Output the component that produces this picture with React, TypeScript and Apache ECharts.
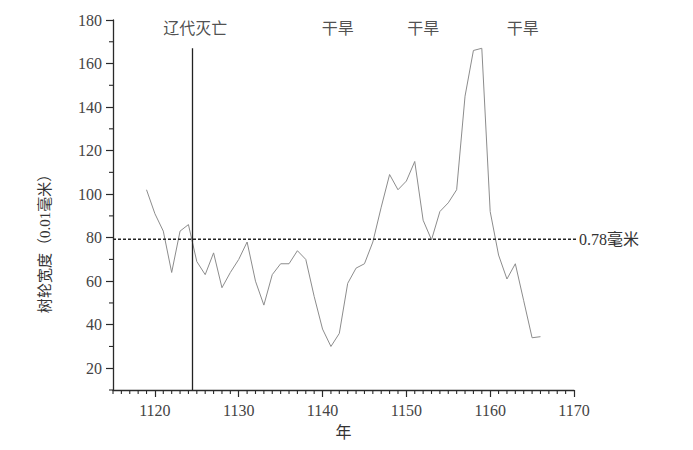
import React, { useEffect, useRef } from "react";
import * as echarts from "echarts";

const years: number[] = [];
for (let y = 1119; y <= 1166; y++) years.push(y);
const ringWidth = [
  102, 91, 83, 64, 83, 86, 69, 63, 73, 57, 64, 70, 78, 60, 49, 63, 68, 68, 74, 70,
  53, 38, 30, 36, 59, 66, 68, 78, 94, 109, 102, 106, 115, 88, 79, 92, 96, 102, 145,
  166, 167, 92, 72, 61, 68, 51, 34, 34.5,
];
const thresholdValue = 79.3;
const thresholdSpan = [1115, 1171.3];
const thresholdLabel = "0.78毫米";
const liaoFallYear = 1124.5;
const liaoLineTop = 167;
const annotations = [
  { year: 1124.8, text: "辽代灭亡" },
  { year: 1141.8, text: "干旱" },
  { year: 1152.0, text: "干旱" },
  { year: 1163.9, text: "干旱" },
];
const annotationY = 176.3;
const yMajorTicks = [20, 40, 60, 80, 100, 120, 140, 160, 180];
const yMinorTicks = [10, 30, 50, 70, 90, 110, 130, 150, 170];
const xMajorTicks = [1120, 1130, 1140, 1150, 1160, 1170];
const xMinorTicks: number[] = [];
for (let y = 1115; y < 1170; y++) if (y % 10 !== 0) xMinorTicks.push(y);
const xName = "年";
const yName = "树轮宽度（0.01毫米）";

const X_MIN = 1115;
const X_MAX = 1170;
const Y_MIN = 10;
const Y_MAX = 180;

const SERIF = "'Liberation Serif', 'Noto Sans CJK SC', serif";

export default function App() {
  const ref = useRef<HTMLDivElement>(null);
  useEffect(() => {
    if (!ref.current) return;
    const chart = echarts.init(ref.current, undefined, { renderer: "svg" });
    const axisColor = "#2a2a2a";
    const minorLen = 4;
    chart.setOption({
      animation: false,
      backgroundColor: "#fff",
      grid: { left: 113, right: 119, top: 20, bottom: 60 },
      xAxis: {
        type: "value",
        min: X_MIN,
        max: X_MAX,
        interval: 5,
        name: xName,
        nameLocation: "middle",
        nameGap: 34,
        nameTextStyle: { fontFamily: SERIF, fontSize: 16, color: "#333" },
        axisLine: { show: true, lineStyle: { color: axisColor, width: 1.3 } },
        axisTick: { show: true, customValues: xMajorTicks, length: 7, lineStyle: { color: axisColor, width: 1.2 } },
        axisLabel: {
          customValues: xMajorTicks,
          formatter: (v: number) => String(v),
          fontFamily: SERIF,
          fontSize: 16,
          color: "#444",
          margin: 12,
        },
        splitLine: { show: false },
      },
      yAxis: {
        type: "value",
        min: Y_MIN,
        max: Y_MAX,
        interval: 10,
        axisLine: { show: true, lineStyle: { color: axisColor, width: 1.3 } },
        axisTick: { show: true, customValues: yMajorTicks, length: 7, lineStyle: { color: axisColor, width: 1.2 } },
        axisLabel: {
          customValues: yMajorTicks,
          fontFamily: SERIF,
          fontSize: 16,
          color: "#444",
          margin: 11,
        },
        splitLine: { show: false },
      },
      graphic: [
        {
          type: "text",
          x: 45,
          y: 240,
          rotation: Math.PI / 2,
          style: {
            text: yName,
            fontFamily: SERIF,
            fontSize: 15,
            fill: "#333",
            align: "center",
            verticalAlign: "middle",
          },
        },
      ],
      series: [
        {
          type: "line",
          data: years.map((y, i) => [y, ringWidth[i]]),
          symbol: "none",
          lineStyle: { color: "#8c8c8c", width: 1 },
          markLine: {
            silent: true,
            symbol: ["none", "none"],
            data: [
              [
                {
                  coord: [liaoFallYear, Y_MIN],
                  lineStyle: { color: "#222", type: "solid", width: 1.3 },
                  label: { show: false },
                },
                { coord: [liaoFallYear, liaoLineTop] },
              ],
            ],
          },
        },
        {
          type: "line",
          data: thresholdSpan.map((x) => [x, thresholdValue]),
          symbol: "none",
          clip: false,
          silent: true,
          lineStyle: { color: "#222", type: [3, 2], width: 1.5 },
          endLabel: {
            show: true,
            formatter: thresholdLabel,
            fontFamily: SERIF,
            fontSize: 16,
            color: "#333",
            distance: 3,
          },
        },
        {
          type: "scatter",
          symbolSize: 0,
          silent: true,
          data: annotations.map((a) => ({ name: a.text, value: [a.year, annotationY] })),
          label: {
            show: true,
            position: "inside",
            formatter: (p: any) => p.name,
            fontFamily: SERIF,
            fontSize: 16,
            color: "#222",
          },
        },
        {
          type: "custom",
          coordinateSystem: "cartesian2d",
          silent: true,
          clip: false,
          z: 10,
          data: xMinorTicks.map((x) => [x, Y_MIN]),
          renderItem: (_params: any, api: any) => {
            const p = api.coord([api.value(0), api.value(1)]);
            return {
              type: "line",
              shape: { x1: p[0], y1: p[1], x2: p[0], y2: p[1] + minorLen },
              style: { stroke: axisColor, lineWidth: 1.1 },
            };
          },
        },
        {
          type: "custom",
          coordinateSystem: "cartesian2d",
          silent: true,
          clip: false,
          z: 10,
          data: yMinorTicks.map((v) => [X_MIN, v]),
          renderItem: (_params: any, api: any) => {
            const p = api.coord([api.value(0), api.value(1)]);
            return {
              type: "line",
              shape: { x1: p[0] - minorLen, y1: p[1], x2: p[0], y2: p[1] },
              style: { stroke: axisColor, lineWidth: 1.1 },
            };
          },
        },
      ],
    });
    return () => chart.dispose();
  }, []);
  return (
    <div
      ref={ref}
      style={{ position: "fixed", left: 0, top: 0, width: 693, height: 450 }}
    />
  );
}
